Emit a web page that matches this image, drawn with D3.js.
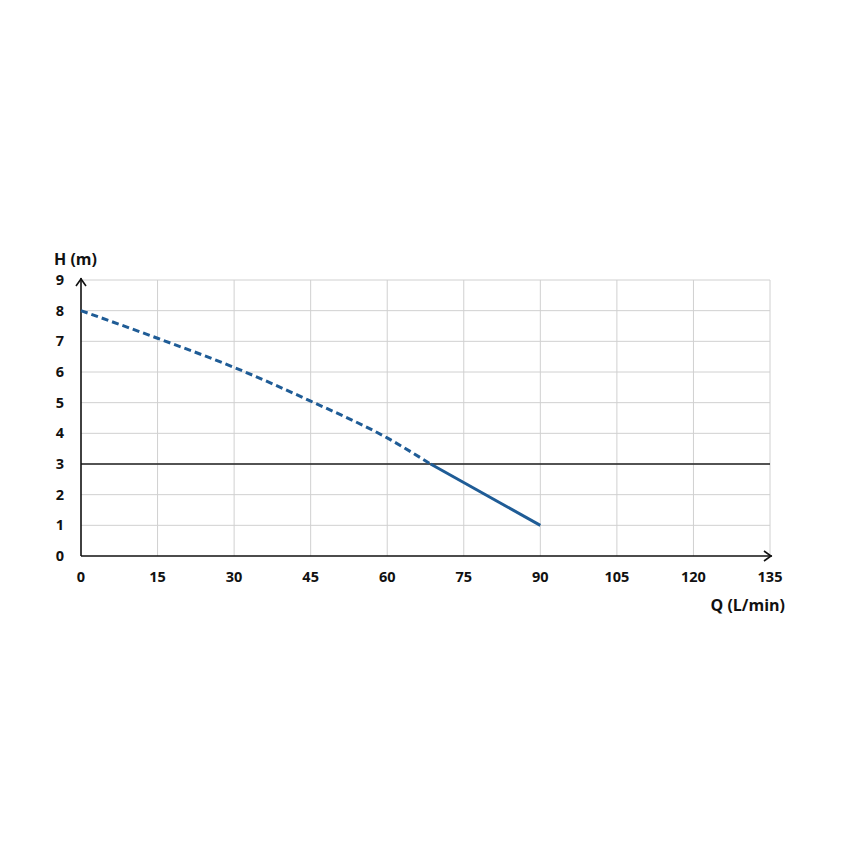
<!DOCTYPE html>
<html><head><meta charset="utf-8">
<script src="https://cdn.jsdelivr.net/npm/d3@7"></script>
<style>body{margin:0;background:#fff}text{font-family:"Open Sans",sans-serif;font-weight:700;fill:#111}</style>
</head><body><svg id="c" width="850" height="850"></svg>
<script>
const xTicks=[0,15,30,45,60,75,90,105,120,135];
const yTicks=[0,1,2,3,4,5,6,7,8,9];
const dashedQ=[0,15,30,45,60,68.5];
const dashedH=[8,7.1,6.15,5.05,3.85,3.0];
const solidQ=[68.5,90];
const solidH=[3.0,1.0];
const refH=3;
const svg=d3.select("#c");
const x=d3.scaleLinear().domain([0,135]).range([81,770]);
const y=d3.scaleLinear().domain([0,9]).range([556,280]);
const g=svg.append("g");
xTicks.slice(1).forEach(t=>g.append("line").attr("x1",x(t)).attr("x2",x(t)).attr("y1",y(0)).attr("y2",y(9)).attr("stroke","#d0d0d0").attr("stroke-width",1));
yTicks.slice(1).forEach(t=>g.append("line").attr("x1",x(0)).attr("x2",x(135)).attr("y1",y(t)).attr("y2",y(t)).attr("stroke","#d0d0d0").attr("stroke-width",1));
svg.append("line").attr("x1",x(0)).attr("x2",x(135)).attr("y1",y(refH)).attr("y2",y(refH)).attr("stroke","#222").attr("stroke-width",1.6);
svg.append("line").attr("x1",x(0)).attr("x2",x(135)+2).attr("y1",y(0)).attr("y2",y(0)).attr("stroke","#111").attr("stroke-width",1.6);
svg.append("line").attr("x1",x(0)).attr("x2",x(0)).attr("y1",y(0)).attr("y2",y(9)-2).attr("stroke","#111").attr("stroke-width",1.6);
svg.append("path").attr("d",`M${x(135)-6},${y(0)-5}L${x(135)+1},${y(0)}L${x(135)-6},${y(0)+5}`).attr("fill","none").attr("stroke","#111").attr("stroke-width",1.6);
svg.append("path").attr("d",`M${x(0)-5},${y(9)+6}L${x(0)},${y(9)-1}L${x(0)+5},${y(9)+6}`).attr("fill","none").attr("stroke","#111").attr("stroke-width",1.6);
xTicks.forEach(t=>svg.append("text").attr("x",x(t)).attr("y",582).attr("text-anchor","middle").attr("font-size",14.5).text(t));
yTicks.forEach(t=>svg.append("text").attr("x",60).attr("y",y(t)+5).attr("text-anchor","middle").attr("font-size",14.5).text(t));
svg.append("text").attr("x",54).attr("y",265).attr("font-size",16).text("H (m)");
svg.append("text").attr("x",785).attr("y",611).attr("text-anchor","end").attr("font-size",16).text("Q (L/min)");
const line=d3.line().x(d=>x(d[0])).y(d=>y(d[1])).curve(d3.curveMonotoneX);
svg.append("path").attr("d",line(dashedQ.map((q,i)=>[q,dashedH[i]]))).attr("fill","none").attr("stroke","#1f5c96").attr("stroke-width",3).attr("stroke-dasharray","7,4");
svg.append("path").attr("d",line(solidQ.map((q,i)=>[q,solidH[i]]))).attr("fill","none").attr("stroke","#1f5c96").attr("stroke-width",3);
</script></body></html>
